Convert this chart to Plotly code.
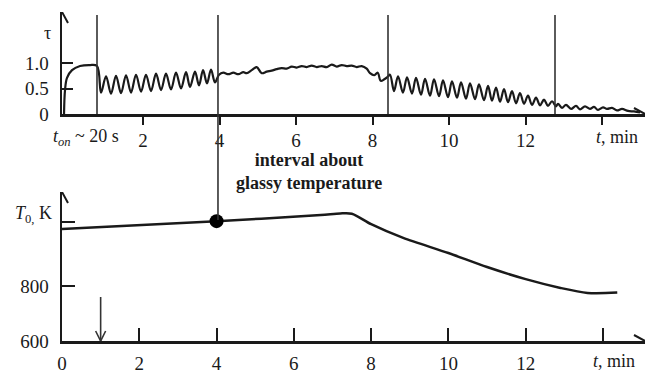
import plotly.graph_objects as go

# ---------------- data ----------------
# Top panel: relative value tau vs time t (min)
tau_t = [-0.065, -0.039, 0.013, 0.144, 0.353, 0.614, 0.797,
         0.902, 1.033, 1.163, 1.294, 1.425, 1.556, 1.686, 1.817, 1.948, 2.078,
         2.209, 2.340, 2.471, 2.601, 2.732, 2.863, 2.994, 3.124, 3.229, 3.359,
         3.464, 3.569, 3.673, 3.778, 3.882, 3.987,
         4.099, 4.230, 4.361, 4.492, 4.622, 4.711, 4.842, 4.973, 5.103, 5.234,
         5.365, 5.495, 5.626, 5.757, 5.888, 6.018, 6.149, 6.280, 6.410, 6.541,
         6.672, 6.803, 6.933, 7.064, 7.195, 7.325, 7.456, 7.587, 7.718, 7.848,
         7.935, 8.047, 8.136, 8.214, 8.308, 8.397,
         8.458, 8.562, 8.667, 8.797, 8.902, 9.033, 9.137, 9.268, 9.373, 9.503,
         9.608, 9.739, 9.843, 9.974, 10.078, 10.209, 10.314, 10.444, 10.549,
         10.680, 10.784, 10.915, 11.020, 11.124, 11.229, 11.333, 11.438, 11.542,
         11.647, 11.752, 11.856, 11.961, 12.065, 12.170, 12.275, 12.379, 12.484,
         12.588, 12.693, 12.797,
         12.850, 12.954, 13.059, 13.190, 13.320, 13.425, 13.556, 13.686, 13.791,
         13.895, 14.026, 14.131, 14.261, 14.392, 14.523, 14.680, 14.837, 14.994]
tau_v = [0.00, 0.47, 0.71, 0.86, 0.94, 0.96, 0.94,
         0.42, 0.74, 0.40, 0.75, 0.41, 0.76, 0.42, 0.77, 0.44, 0.77,
         0.45, 0.79, 0.47, 0.79, 0.48, 0.81, 0.50, 0.82, 0.53, 0.83,
         0.56, 0.86, 0.60, 0.87, 0.62, 0.77,
         0.81, 0.78, 0.81, 0.78, 0.82, 0.80, 0.86, 0.92, 0.80, 0.83,
         0.85, 0.88, 0.90, 0.89, 0.93, 0.91, 0.94, 0.92, 0.95, 0.92,
         0.94, 0.92, 0.97, 0.93, 0.96, 0.94, 0.95, 0.92, 0.94, 0.89,
         0.80, 0.76, 0.81, 0.65, 0.68, 0.73,
         0.77, 0.45, 0.74, 0.42, 0.72, 0.40, 0.71, 0.38, 0.69, 0.36,
         0.68, 0.35, 0.66, 0.33, 0.64, 0.32, 0.62, 0.30, 0.60,
         0.29, 0.58, 0.27, 0.55, 0.26, 0.52, 0.24, 0.49, 0.23,
         0.45, 0.21, 0.41, 0.20, 0.36, 0.18, 0.32, 0.17, 0.28,
         0.16, 0.25, 0.15,
         0.20, 0.12, 0.18, 0.10, 0.16, 0.09, 0.15, 0.10, 0.14,
         0.08, 0.13, 0.10, 0.12, 0.07, 0.10, 0.06, 0.05, 0.03]

# Vertical marker lines in the top panel (min)
vlines_t = [0.797, 8.405, 12.771]
glassy_t = 3.96

# Bottom panel: temperature T0 (K) vs time t (min)
temp_t = [0.0, 4.0, 6.7, 7.2, 7.5, 8.0, 8.83, 10.0, 11.0, 12.0, 12.9, 13.6, 14.37]
temp_v = [1007, 1036, 1058, 1064, 1063, 1025, 975, 920, 869, 825, 793, 775, 776]
dot_t, dot_v = 4.0, 1036
arrow_t = 1.0

top_ticks = [2, 4, 6, 8, 10, 12]
top_ticktext = ["2", "4", "6", "8", "10", "12"]
bot_ticks = [0, 2, 4, 6, 8, 10, 12]
bot_ticktext = ["0", "2", "4", "6", "8", "10", "12"]
x_unlabeled_ticks = [14]
tau_ticks = [0, 0.5, 1.0]
tau_ticktext = ["0", "0.5", "1.0"]
T_ticks = [600, 800]
T_ticktext = ["600", "800"]
T_unlabeled_ticks = [1033]

# ---------------- figure ----------------
FONT = "Liberation Serif"
INK = "#1a1a1a"
W, H = 649, 373

fig = go.Figure()
fig.add_trace(go.Scatter(x=tau_t, y=tau_v, mode="lines", xaxis="x", yaxis="y",
                         line=dict(color=INK, width=2.2, shape="spline", smoothing=1.0),
                         hoverinfo="skip"))
fig.add_trace(go.Scatter(x=temp_t, y=temp_v, mode="lines", xaxis="x2", yaxis="y2",
                         line=dict(color=INK, width=2.5, shape="spline", smoothing=0.8),
                         hoverinfo="skip"))
fig.add_trace(go.Scatter(x=[dot_t], y=[dot_v], mode="markers", xaxis="x2", yaxis="y2",
                         marker=dict(color="black", size=14), hoverinfo="skip"))

xdom = [62 / W, 645 / W]
axis_common = dict(showgrid=False, zeroline=False, showline=True, linecolor=INK,
                   linewidth=2.5, tickcolor=INK, tickwidth=2, automargin=False,
                   tickfont=dict(family=FONT, size=19, color=INK))

fig.update_layout(
    width=W, height=H, margin=dict(l=0, r=0, t=0, b=0, autoexpand=False),
    paper_bgcolor="white", plot_bgcolor="white", showlegend=False,
    xaxis=dict(domain=xdom, range=[-0.118, 15.124], anchor="y",
               tickvals=top_ticks, ticktext=top_ticktext, ticks="outside",
               ticklen=8, ticklabelstandoff=0,
               minor=dict(tickvals=x_unlabeled_ticks, ticks="outside", ticklen=8,
                          tickwidth=2, tickcolor=INK, showgrid=False),
               **axis_common),
    yaxis=dict(domain=[1 - 114 / H, 1 - 12 / H], range=[0, 2.0], anchor="x",
               tickvals=tau_ticks, ticktext=tau_ticktext, ticks="inside",
               ticklen=11, ticklabelstandoff=7, **axis_common),
    xaxis2=dict(domain=xdom, range=[0, 15.088], anchor="y2",
                tickvals=bot_ticks, ticktext=bot_ticktext, ticks="inside",
                ticklen=13, ticklabelstandoff=4,
                minor=dict(tickvals=x_unlabeled_ticks, ticks="inside", ticklen=13,
                           tickwidth=2, tickcolor=INK, showgrid=False),
                **axis_common),
    yaxis2=dict(domain=[1 - 341 / H, 1 - 192 / H], range=[600, 1142], anchor="x2",
                tickvals=T_ticks, ticktext=T_ticktext, ticks="inside",
                ticklen=13, ticklabelstandoff=7,
                minor=dict(tickvals=T_unlabeled_ticks, ticks="inside", ticklen=13,
                           tickwidth=2, tickcolor=INK, showgrid=False),
                **axis_common),
)

shapes = []
# vertical lines, top panel
for vt in vlines_t:
    shapes.append(dict(type="line", xref="x", yref="y", x0=vt, x1=vt, y0=0, y1=1.94,
                       line=dict(color="#333", width=1.6)))
shapes.append(dict(type="line", xref="x", yref="paper", x0=glassy_t, x1=glassy_t,
                   y0=1 - 220 / H, y1=1 - 15 / H, line=dict(color="#333", width=1.6)))
# axis arrowheads
head_r = "M-11,6 L0,0 L-11,-6"
head_u = "M-6,-11 L0,0 L6,-11"
head_d = "M-5,10 L0,0 L5,10"
for xr, yr, xa, ya, p in [("x", "y", 15.124, 0, head_r), ("x", "y", -0.118, 2.0, head_u),
                          ("x2", "y2", 15.088, 600, head_r), ("x2", "y2", 0, 1142, head_u)]:
    shapes.append(dict(type="path", xref=xr, yref=yr, xsizemode="pixel", ysizemode="pixel",
                       xanchor=xa, yanchor=ya, path=p, line=dict(color=INK, width=2)))
# down arrow at t = 1 min
shapes.append(dict(type="path", xref="x2", yref="y2", xsizemode="pixel", ysizemode="pixel",
                   xanchor=arrow_t, yanchor=600, path="M0,0 L0,44",
                   line=dict(color="#333", width=1.6)))
shapes.append(dict(type="path", xref="x2", yref="y2", xsizemode="pixel", ysizemode="pixel",
                   xanchor=arrow_t, yanchor=600, path=head_d,
                   line=dict(color="#333", width=1.6)))
fig.update_layout(shapes=shapes)

def note(text, x, y, size=18, xanchor="center"):
    fig.add_annotation(text=text, x=x / W, y=1 - y / H, xref="paper", yref="paper",
                       showarrow=False, xanchor=xanchor, yanchor="middle",
                       font=dict(family=FONT, size=size, color=INK))

note("τ", 47, 33)
note("<i>T</i><sub>0,</sub> K", 33, 214)
note("<i>t</i><sub><i>on</i></sub> ~ 20 s", 86, 137)
note("<i>t</i>, min", 617, 137)
note("<i>t</i>, min", 614, 361)
note("<b>interval about<br>glassy temperature</b>", 309, 171)

fig.write_html("out.html", config={"displayModeBar": False, "staticPlot": True},
               post_script="document.body.style.margin='0';document.body.style.overflow='hidden';")
